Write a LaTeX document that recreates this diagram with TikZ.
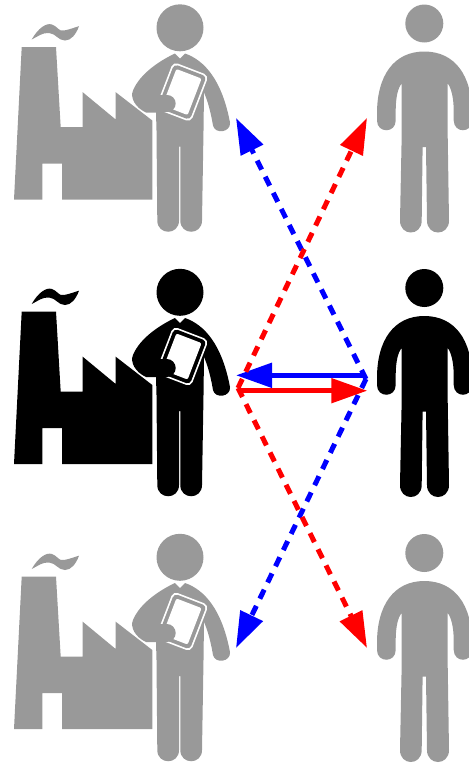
\documentclass[tikz,border=0pt]{standalone}
\usetikzlibrary{arrows.meta}
\definecolor{dimgrey}{HTML}{999999}
\tikzset{
  every picture/.style={x=1pt,y=-1pt},
  conn/.style={line width=5pt,draw=#1,-{Triangle[length=36pt,width=24pt,fill=#1]}},
  dashconn/.style={conn=#1,dash pattern=on 10pt off 8pt},
}
\newcommand{\factoryshape}[1]{%
  \fill[#1] (21.7,311.7) -- (56,311.7) -- (60.7,391.7) -- (82.7,391.7) -- (82.7,356.7) -- (115.7,384) -- (115.7,356.7) -- (152.3,385) -- (152.3,464) -- (62,464) -- (62,428) -- (42.3,428) -- (42.3,464) -- (14,464) -- cycle;
  \fill[#1] (31.7,304) .. controls (38,293) and (46,287) .. (52,289) .. controls (58,291) and (58,296) .. (64,295) .. controls (70,294) and (74,292) .. (79,290.7) .. controls (76,299) and (71,305) .. (65,305) .. controls (58,305) and (56,298) .. (49,297.5) .. controls (42,297) and (38,301) .. (31.7,304) -- cycle;}
\newcommand{\manshape}[1]{%
  \fill[#1] (180,292.3) circle[radius=23.5];
  \fill[#1] (175,318) -- (180,323) -- (185,318) .. controls (205,325) and (222,345) .. (230,387) .. controls (231,397) and (215,399) .. (213,390) .. controls (211,378) and (208,366) .. (204,357) -- (203.5,395) -- (202,485) .. controls (202,500) and (180.3,500) .. (180.3,485) -- (180.3,411) -- (179,411) -- (179,485) .. controls (179,500) and (157.3,500) .. (157.3,485) -- (156.5,395) -- (156,377) -- (146,377) .. controls (135,372) and (130,362) .. (133,355) .. controls (140,338) and (160,325) .. (175,318) -- cycle;
  \begin{scope}[shift={(182,356.5)},rotate=-21]
    \fill[white,rounded corners=5pt] (-19,-25) rectangle (19,25);
    \fill[#1,rounded corners=4pt] (-17.3,-23.3) rectangle (17.3,23.3);
    \fill[white,rounded corners=2pt] (-13.5,-19.5) rectangle (13.5,19.5);
  \end{scope}
  \draw[#1,line width=17.4pt,line cap=round] (152,368) -- (167,368);}
\newcommand{\personshape}[1]{%
  \fill[#1] (424.3,288) circle[radius=19];
  \fill[#1] (424.3,316) .. controls (455,316) and (472,340) .. (472,378) -- (472,385) .. controls (472,398) and (454,398) .. (453.7,385) -- (453.7,375) .. controls (453.7,362) and (451,352) .. (447.7,348) -- (447.7,400) -- (449,485) .. controls (449,501) and (427,501) .. (427,485) -- (426,411.7) -- (422.6,411.7) -- (421.7,485) .. controls (421.7,501) and (400,501) .. (400,485) -- (401.7,400) -- (401.7,348) .. controls (398,352) and (395.7,362) .. (395.7,375) -- (395.7,385) .. controls (395.7,398) and (377,398) .. (377,385) -- (377,378) .. controls (377,340) and (394,316) .. (424.3,316) -- cycle;}
\begin{document}
\begin{tikzpicture}
\useasboundingbox (0,0) rectangle (469,764);
\clip (0,0) rectangle (469,764);
\begin{scope}[shift={(0,-264.5)}]\factoryshape{dimgrey}\manshape{dimgrey}\personshape{dimgrey}\end{scope}
\begin{scope}[shift={(0,265)}]\factoryshape{dimgrey}\manshape{dimgrey}\personshape{dimgrey}\end{scope}
\factoryshape{black}\manshape{black}\personshape{black}
\coordinate (bs) at (366,379);
\coordinate (rs) at (238,388);
\coordinate (tl) at (236,118);
\coordinate (tr) at (367,118);
\coordinate (bl) at (236,648);
\coordinate (br) at (367,648);
\coordinate (hbs) at (365,375.3);
\coordinate (hbt) at (236,375.3);
\coordinate (hrs) at (240,390.7);
\coordinate (hrt) at (367.3,390.7);
\draw[dashconn=blue] (bs) -- (tl);
\draw[dashconn=blue] (bs) -- (bl);
\draw[conn=blue] (hbs) -- (hbt);
\draw[dashconn=red] (rs) -- (tr);
\draw[dashconn=red] (rs) -- (br);
\draw[conn=red] (hrs) -- (hrt);
\end{tikzpicture}
\end{document}
